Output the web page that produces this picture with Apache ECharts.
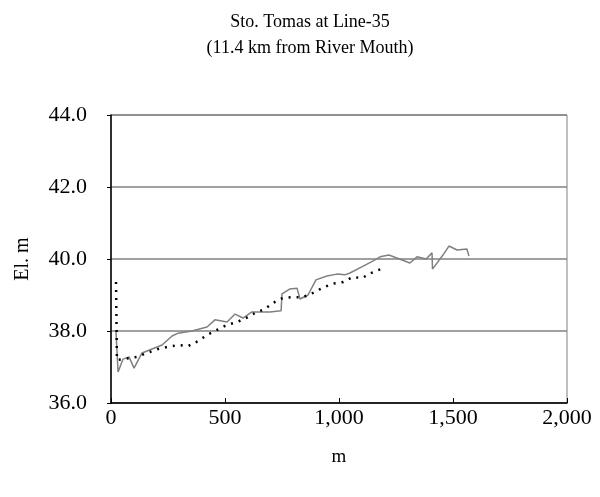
<!DOCTYPE html>
<html>
<head>
<meta charset="utf-8">
<script src="https://cdn.jsdelivr.net/npm/echarts@6/dist/echarts.min.js"></script>
<style>html,body{margin:0;padding:0;background:#fff;}#c{width:600px;height:497px;}</style>
</head>
<body>
<div id="c"></div>
<script>
var titleLines = ["Sto. Tomas at Line-35", "(11.4 km from River Mouth)"];
var xName = "m";
var yName = "El. m";
var xTicks = [0, 500, 1000, 1500, 2000];
var yTicks = [36, 38, 40, 42, 44];

var solidX = [22, 31, 53, 79, 101, 136, 224, 268, 294, 355, 421, 456, 509, 544, 579, 618, 697, 746, 750, 785, 816, 829, 864, 899, 947, 991, 1026, 1048, 1100, 1150, 1180, 1219, 1311, 1342, 1382, 1408, 1410, 1456, 1482, 1518, 1561, 1570];
var solidY = [37.97, 36.86, 37.22, 37.28, 36.97, 37.39, 37.61, 37.86, 37.94, 38.0, 38.11, 38.31, 38.25, 38.47, 38.36, 38.53, 38.53, 38.56, 39.03, 39.17, 39.19, 38.89, 39.0, 39.42, 39.53, 39.58, 39.56, 39.61, 39.78, 39.95, 40.06, 40.11, 39.89, 40.06, 40.0, 40.17, 39.72, 40.11, 40.36, 40.25, 40.28, 40.08];

var dotX = [22, 26, 53, 114, 158, 206, 250, 294, 338, 382, 421, 465, 509, 553, 592, 632, 675, 711, 754, 798, 842, 886, 925, 969, 1018, 1061, 1101, 1140, 1184];
var dotY = [39.36, 37.19, 37.22, 37.28, 37.39, 37.5, 37.56, 37.61, 37.58, 37.72, 37.89, 38.03, 38.17, 38.25, 38.36, 38.5, 38.61, 38.78, 38.92, 38.94, 38.94, 39.06, 39.19, 39.31, 39.36, 39.5, 39.47, 39.61, 39.72];

function pairs(xs, ys) { return xs.map(function (x, i) { return [x, ys[i]]; }); }

var font = "'Liberation Serif', 'Times New Roman', serif";
var chart = echarts.init(document.getElementById('c'));
chart.setOption({
  animation: false,
  backgroundColor: '#fff',
  title: {
    text: titleLines.join('\n'),
    left: 305, textAlign: 'center', top: 4,
    textStyle: { fontFamily: font, fontSize: 18, fontWeight: 'normal', color: '#000', lineHeight: 26 }
  },
  grid: { left: 111, right: 33, top: 115, bottom: 94, show: true, borderColor: '#808080', borderWidth: 1 },
  xAxis: {
    type: 'value', min: xTicks[0], max: xTicks[xTicks.length - 1], interval: 500,
    name: xName, nameLocation: 'middle', nameGap: 45,
    nameTextStyle: { fontFamily: font, fontSize: 19, color: '#000' },
    axisLine: { show: true, onZero: false, lineStyle: { color: '#000', width: 1.5 } },
    axisTick: { show: true, inside: true, length: 5, lineStyle: { color: '#000' } },
    axisLabel: { fontFamily: font, fontSize: 22, color: '#000', margin: 4,
      formatter: function (v) { return v.toLocaleString('en-US'); } },
    splitLine: { show: false }
  },
  yAxis: {
    type: 'value', min: yTicks[0], max: yTicks[yTicks.length - 1], interval: 2,
    name: yName, nameLocation: 'middle', nameGap: 78, nameRotate: 90,
    nameTextStyle: { fontFamily: font, fontSize: 20, color: '#000' },
    axisLine: { show: true, onZero: false, lineStyle: { color: '#000', width: 1.5 } },
    axisTick: { show: true, inside: false, length: 4, lineStyle: { color: '#000' } },
    axisLabel: { fontFamily: font, fontSize: 22, color: '#000', margin: 24,
      formatter: function (v) { return v.toFixed(1); } },
    splitLine: { show: true, lineStyle: { color: '#808080', width: 1.5 } }
  },
  series: [
    { type: 'line', data: pairs(solidX, solidY), showSymbol: false, symbol: 'none',
      lineStyle: { color: '#808080', width: 1.5 } },
    { type: 'line', data: pairs(dotX, dotY), showSymbol: false, symbol: 'none',
      lineStyle: { color: '#000', width: 2.5, type: [2, 6] } }
  ]
});
</script>
</body>
</html>
